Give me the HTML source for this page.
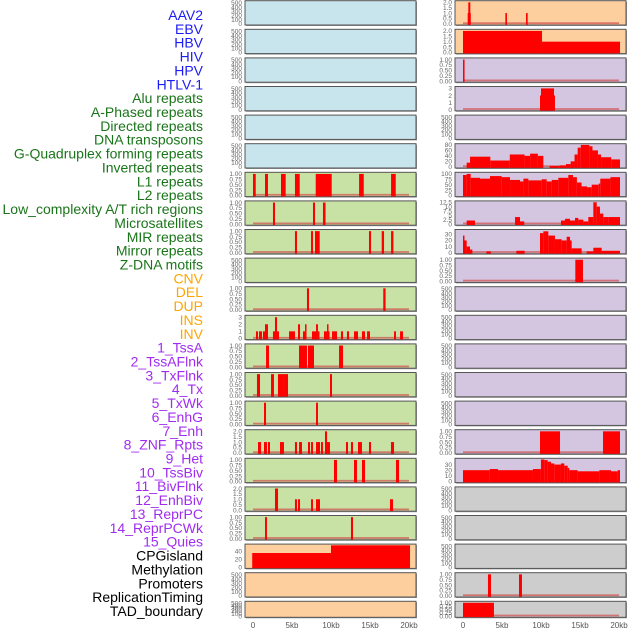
<!DOCTYPE html>
<html><head><meta charset="utf-8">
<style>
html,body{margin:0;padding:0;background:#fff;width:630px;height:630px;overflow:hidden}
svg{display:block;font-family:"Liberation Sans",sans-serif}
</style></head>
<body>
<svg id="chart" width="630" height="630" viewBox="0 0 630 630"></svg>
<script>
// ---- data ----
const labelTexts = ["AAV2","EBV","HBV","HIV","HPV","HTLV-1",
"Alu repeats","A-Phased repeats","Directed repeats","DNA transposons","G-Quadruplex forming repeats","Inverted repeats","L1 repeats","L2 repeats","Low_complexity A/T rich regions","Microsatellites","MIR repeats","Mirror repeats","Z-DNA motifs",
"CNV","DEL","DUP","INS","INV",
"1_TssA","2_TssAFlnk","3_TxFlnk","4_Tx","5_TxWk","6_EnhG","7_Enh","8_ZNF_Rpts","9_Het","10_TssBiv","11_BivFlnk","12_EnhBiv","13_ReprPC","14_ReprPCWk","15_Quies",
"CPGisland","Methylation","Promoters","ReplicationTiming","TAD_boundary"];
const labelGroups = ["b","b","b","b","b","b","g","g","g","g","g","g","g","g","g","g","g","g","g","o","o","o","o","o","p","p","p","p","p","p","p","p","p","p","p","p","p","p","p","k","k","k","k","k"];
const xTicks = [0,5,10,15,20];
const xTickLabels = ["0","5kb","10kb","15kb","20kb"];
const ticksEmpty = [0,100,200,300,400,500];
const ticksUnit = [0,0.25,0.5,0.75,1];
const ticksTwo = [0,0.5,1,1.5,2];
const ticksThree = [0,1,2,3];

// col1 backgrounds per row
const bg1 = ["b","b","b","b","b","b","g","g","g","g","g","g","g","g","g","g","g","g","g","o","o","o"];
const bg2 = ["o","o","p","p","p","p","p","p","p","p","p","p","p","p","p","p","p","k","k","k","k","k"];

// segments: [startKb, endKb, value]
const c1r6 = [[0,0.35,1],[1.54,1.92,1],[3.59,4.19,1],[5.38,5.99,1],[8.04,10.09,1],[13.6,14.2,1],[17.7,18.3,1]];
const c1r7 = [[2.56,2.82,1],[7.69,7.95,1],[8.97,9.3,1]];
const c1r8 = [[5.38,5.64,1],[7.44,7.69,1],[7.95,8.55,1],[14.87,15.13,1],[16.5,16.8,1],[17.7,18.0,1]];
const c1r10 = [[6.92,7.18,1],[16.7,17.0,1]];
const c1r11 = [[0.38,0.64,1],[0.77,1.15,1],[1.28,1.54,1],[1.54,1.92,2],[2.56,2.82,1],[2.82,3.08,3],[3.08,3.33,1],[4.62,5.38,1],[5.77,6.03,2],[6.41,6.67,1],[6.67,6.79,2],[7.56,8.08,1],[8.08,8.33,2],[8.33,8.46,1],[9.1,9.49,1],[9.49,9.62,2],[9.62,9.74,1],[10.13,10.38,1],[10.38,10.77,1],[11.28,11.54,1],[12.05,12.31,1],[12.95,13.46,1],[13.97,14.36,1],[14.62,15.0,1],[18.08,18.33,1],[18.85,19.23,1]];
const c1r12 = [[1.67,2.05,1],[5.9,6.92,1],[7.05,7.82,1],[11.03,11.54,1]];
const c1r13 = [[0.51,0.9,1],[2.31,2.69,1],[3.2,3.85,1],[3.85,4.49,1],[9.87,10.13,1]];
const c1r14 = [[1.41,1.67,1],[8.08,8.33,1]];
const c1r15 = [[0.64,1.03,1],[1.41,1.79,1],[1.92,2.18,1],[3.46,3.97,1],[5.38,5.64,1],[5.9,6.28,1],[7.05,7.31,1],[7.44,7.69,1],[8.08,8.59,1],[8.72,8.97,1],[9.23,9.49,2],[9.49,9.87,1],[11.92,12.18,1],[12.56,12.82,1],[13.46,13.97,1],[14.87,15.13,1],[17.69,18.08,1]];
const c1r16 = [[10.38,10.77,1],[12.95,13.33,1],[13.97,14.36,1],[18.33,18.72,1]];
const c1r17 = [[2.82,3.21,2],[5.38,5.64,1],[5.77,6.03,1],[7.44,7.69,1],[8.08,8.59,1],[17.56,17.95,1]];
const c1r18 = [[1.54,1.79,1],[12.56,12.82,1]];
const c1r19 = [[-0.1,10.0,35],[10.0,20.13,54]];

const c2r0 = [[0.68,0.94,2],[0.6,1.0,1],[5.43,5.64,1],[8.08,8.29,1]];
const c2r1 = [[0,10.13,2],[10.13,20.13,1]];
const c2r2 = [[0,0.2,1]];
const c2r3 = [[9.87,11.79,2],[10,11.67,3]];
const c2r5 = [[0.47,0.9,15],[0.9,3.5,37],[3.5,6.0,23],[6.0,7.9,45],[7.9,8.6,40],[8.6,9.6,48],[9.6,10.3,40],[11.1,12.4,3],[12.4,13.2,5],[13.2,13.8,10],[13.8,14.3,20],[14.3,14.7,45],[14.7,15.1,70],[15.1,16.2,80],[16.2,16.6,75],[16.6,17.3,60],[17.3,17.7,45],[17.7,19.0,35],[19.0,20.13,27]];
const c2r6 = [[0,0.47,95],[0.47,0.98,100],[0.98,2.18,82],[2.18,3.46,78],[3.46,4.96,90],[4.96,6.03,85],[6.03,7.31,72],[7.31,7.74,65],[7.74,8.38,78],[8.38,10.09,70],[10.09,10.73,75],[10.73,11.37,65],[11.37,12.22,72],[12.22,13.5,82],[13.5,14.1,95],[14.1,14.6,85],[14.6,15.2,60],[15.2,15.9,42],[15.9,16.5,38],[16.5,17.4,50],[17.4,17.6,55],[17.6,18.9,78],[18.9,20.13,85]];
const c2r7 = [[0.47,1.54,2],[6.67,7.31,4],[7.31,7.86,1.5],[12.56,13.08,2],[13.08,13.72,3],[13.72,14.36,2],[14.36,14.79,3.5],[14.79,15.43,2.5],[15.43,16.07,1.5],[16.07,16.71,4],[16.71,17.14,12.5],[17.14,17.56,10],[17.56,17.99,6],[17.99,18.63,4],[18.63,20.13,4]];
const c2r8 = [[0,0.13,28],[0.13,0.47,20],[0.47,0.9,10],[0.9,1.2,5],[3.0,3.57,2],[6.84,7.91,3],[9.87,10.3,32],[10.3,10.94,35],[10.94,11.79,28],[11.79,12.65,22],[12.65,13.29,20],[13.29,13.72,26],[13.72,13.93,20],[13.93,15.21,7],[15.85,16.71,2],[16.71,17.78,8],[17.78,20.13,3]];
const c2r9 = [[14.4,15.38,1]];
const c2r15 = [[9.87,12.44,1],[17.95,20.13,1]];
const c2r16 = [[0,3.42,20],[3.42,4.49,22],[4.49,8.97,20],[8.97,9.99,22],[9.99,10.43,40],[10.43,10.86,38],[10.86,11.28,35],[11.28,11.71,32],[11.71,12.56,30],[12.56,12.99,32],[12.99,13.42,28],[13.42,13.63,24],[13.63,14.7,20],[14.7,17.48,18],[17.48,18.97,20],[18.97,19.83,18],[19.83,20.13,20]];
const c2r20 = [[3.2,3.59,1],[7.18,7.56,1]];
const c2r21 = [[0,3.97,1]];

// panel specs: [segments, yMax, ticks]
const col1 = [null,null,null,null,null,null,
 [c1r6,1.02,ticksUnit],[c1r7,1.02,ticksUnit],[c1r8,1.02,ticksUnit],null,[c1r10,1.02,ticksUnit],
 [c1r11,3.1,ticksThree],[c1r12,1.02,ticksUnit],[c1r13,1.02,ticksUnit],[c1r14,1.02,ticksUnit],
 [c1r15,2.04,ticksTwo],[c1r16,1.02,ticksUnit],[c1r17,2.04,ticksTwo],[c1r18,1.02,ticksUnit],
 [c1r19,54,[0,20,40]],null,null];
const col2 = [[c2r0,2.04,ticksTwo],[c2r1,2.04,ticksTwo],[c2r2,1.02,ticksUnit],[c2r3,3.1,ticksThree],null,
 [c2r5,80,[0,20,40,60,80]],[c2r6,102,[0,25,50,75,100]],[c2r7,12.6,[0,2.5,5,7.5,10,12.5]],[c2r8,36,[0,10,20,30]],
 [c2r9,1.02,ticksUnit],null,null,null,null,null,[c2r15,1.02,ticksUnit],[c2r16,39,[0,10,20,30]],
 null,null,null,[c2r20,1.02,ticksUnit],[c2r21,1.02,ticksUnit]];

// ---- drawing ----
const NS="http://www.w3.org/2000/svg";
const svg=document.getElementById("chart");
function mk(tag,attrs,parent){const e=document.createElementNS(NS,tag);for(const k in attrs)e.setAttribute(k,attrs[k]);(parent||svg).appendChild(e);return e;}
const labelColor={b:"#1c1cf5",g:"#1a751a",o:"#ffa500",p:"#a02cf0",k:"#000"};
const bgColor={b:"#c8e4ec",g:"#c8e1a4",o:"#fecf9e",p:"#d4c6e1",k:"#cdcdcd"};

labelTexts.forEach((t,i)=>{
  const e=mk("text",{x:203,y:15+i*13.86+5,"text-anchor":"end","font-size":"14",fill:labelColor[labelGroups[i]]});
  e.textContent=t;
  
  
});

const colX=[245,455], panelW=171;
function xScale(col,kb){return colX[col]+8+kb*7.8;}

function drawPanel(col,row,spec,bgKey){
  const top=0.7+row*28.6, h=(row===21?16:24.3);
  const g=mk("g",{});
  
  
  const x0=colX[col];
  mk("rect",{x:x0+1,y:top+1,width:panelW,height:h,fill:"#999"},g);
  const bgR=mk("rect",{x:x0,y:top,width:panelW,height:h,fill:bgColor[bgKey],stroke:"#555","stroke-width":1},g);
  
  const y0=top+h-1.2, y1=top+1.2;
  const yMax=spec?spec[1]:520;
  const ticks=spec?spec[2]:ticksEmpty;
  const ys=v=>y0-(v/yMax)*(y0-y1);
  ticks.forEach(v=>{
    const tx=mk("text",{x:x0-3,y:ys(v)+2.3,"text-anchor":"end","font-size":"6.5",fill:"#666"},g);
    tx.textContent=(ticks===ticksUnit)?v.toFixed(2):(ticks===ticksTwo?v.toFixed(1):String(v));
    
    
  });
  if(spec){
    mk("rect",{x:xScale(col,0),y:y0-1.5,width:xScale(col,20)-xScale(col,0),height:1.8,fill:"#d05050",opacity:0.7},g);
    spec[0].forEach(s=>{
      const xa=Math.max(x0+1,xScale(col,s[0])), xb=Math.min(x0+panelW-1,xScale(col,s[1]));
      const yy=ys(Math.min(s[2],yMax));
      const b=mk("rect",{x:xa,y:yy,width:Math.max(1.5,xb-xa),height:y0+1-yy,fill:"#ff0000"},g);
      
      
    });
  }
}
for(let r=0;r<22;r++){drawPanel(0,r,col1[r],bg1[r]);drawPanel(1,r,col2[r],bg2[r]);}

[0,1].forEach(col=>{
  xTicks.forEach((v,i)=>{
    const t=mk("text",{x:xScale(col,v),y:628,"text-anchor":"middle","font-size":"8",fill:"#555"});
    t.textContent=xTickLabels[i];
    
    
  });
});
</script>
</body></html>
